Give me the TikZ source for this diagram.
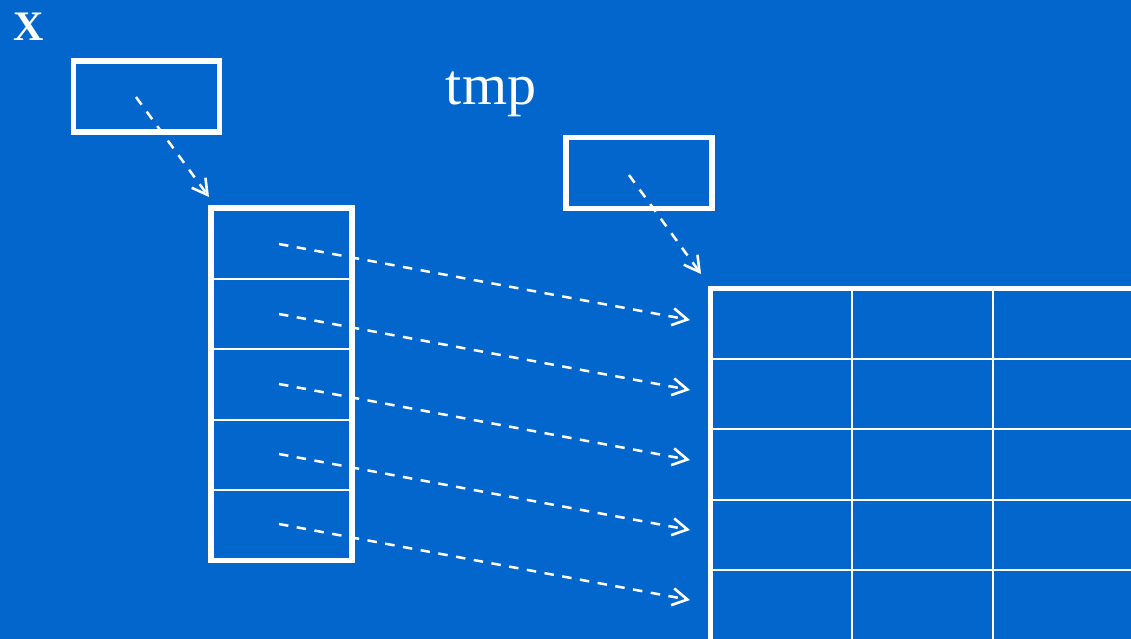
\documentclass[tikz,border=0pt]{standalone}
\usepackage{fontspec}
\setmainfont{Liberation Serif}
\usetikzlibrary{arrows.meta}
\definecolor{bg}{RGB}{2,102,204}
\begin{document}
\begin{tikzpicture}[x=1pt,y=-1pt,
  box/.style={draw=white,line width=5.5pt,inner sep=0pt,minimum width=146pt,minimum height=71pt},
  acell/.style={inner sep=0pt,minimum width=141pt,minimum height=70.5pt},
  mcell/.style={inner sep=0pt,minimum width=141.3pt,minimum height=70.3pt},
  grid/.style={draw=white,line width=2.2pt},
  frame/.style={draw=white,line width=5.5pt},
  ptr/.style={draw=white,line width=2.5pt,dash pattern=on 9.5pt off 8.5pt,-{Straight Barb[length=15pt,width=17pt,line width=2.6pt]}},
  lbl/.style={text=white,inner sep=0pt}]
\useasboundingbox (0,0) rectangle (1131,639);
\fill[bg] (0,0) rectangle (1131,639);
\clip (0,0) rectangle (1131,639);
% labels
\node[lbl,font=\fontsize{42}{42}\selectfont\bfseries,anchor=base] (xl) at (29,41) {X};
\node[lbl,font=\fontsize{58}{58}\selectfont,anchor=base] (tl) at (491,105) {tmp};
% pointer boxes
\node[box] (xb) at (146.25,96.5) {};
\node[box] (tb) at (639,173) {};
% array
\foreach \k in {1,...,5}{
  \node[acell] (a\k) at (281.5,{208+35.25+70.5*(\k-1)}) {};
}
\foreach \k in {1,...,4}{
  \draw[grid] (a\k.south west) -- (a\k.south east);
}
\draw[frame] (a1.north west) rectangle (a5.south east);
% matrix
\foreach \r in {1,...,5}{
  \foreach \c in {1,2,3}{
    \node[mcell] (m\r\c) at ({710.5+70.65+141.3*(\c-1)},{288.5+35.15+70.3*(\r-1)}) {};
  }
}
\foreach \r in {1,...,4}{
  \draw[grid] (m\r1.south west) -- (m\r3.south east);
}
\foreach \c in {1,2}{
  \draw[grid] (m1\c.north east) -- (m5\c.south east);
}
\draw[frame] ([yshift=-5pt]m51.south west) -- (m11.north west) -- ([xshift=5pt]m13.north east);
% connectors
\coordinate (xs) at (136,97);
\coordinate (xe) at (209,197);
\coordinate (ts) at (629,175);
\coordinate (te) at (701,274);
\draw[ptr] (xs) -- (xe);
\draw[ptr] (ts) -- (te);
\foreach \k in {1,...,5}{
  \coordinate (s\k) at (279,{244+70*(\k-1)});
  \coordinate (e\k) at (690,{320+70*(\k-1)});
  \draw[ptr] (s\k) -- (e\k);
}
\end{tikzpicture}
\end{document}
